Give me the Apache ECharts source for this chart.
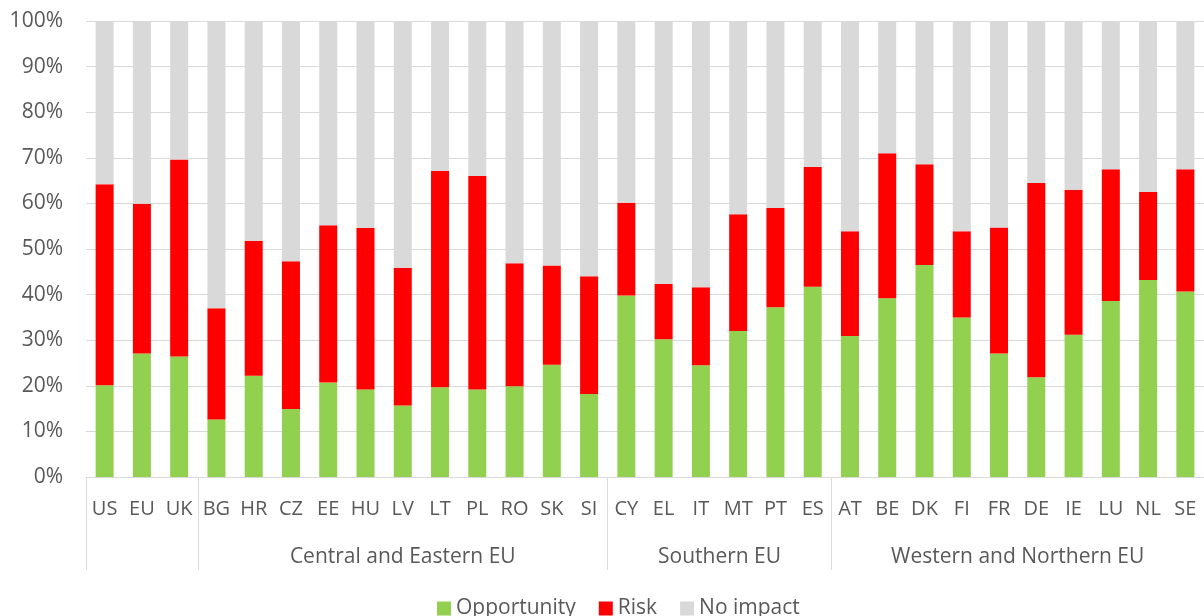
<!DOCTYPE html>
<html>
<head>
<meta charset="utf-8">
<script src="https://cdn.jsdelivr.net/npm/echarts@6/dist/echarts.min.js"></script>
<style>
html,body{margin:0;padding:0;background:#fff;}
#chart{width:1204px;height:616px;}
</style>
</head>
<body>
<div id="chart"></div>
<script>
const countries = ['US','EU','UK','BG','HR','CZ','EE','HU','LV','LT','PL','RO','SK','SI','CY','EL','IT','MT','PT','ES','AT','BE','DK','FI','FR','DE','IE','LU','NL','SE'];
const opportunity = [20.1,27.1,26.4,12.6,22.2,14.9,20.7,19.2,15.7,19.7,19.2,19.9,24.6,18.2,39.8,30.2,24.5,32.0,37.2,41.7,30.9,39.2,46.5,35.0,27.1,21.9,31.2,38.6,43.2,40.7];
const riskTop = [64.2,59.9,69.6,37.0,51.8,47.3,55.2,54.6,45.9,67.1,66.0,46.9,46.4,44.0,60.1,42.3,41.6,57.6,59.0,68.0,53.9,71.0,68.6,53.9,54.7,64.5,63.0,67.5,62.5,67.5];
const risk = riskTop.map((t,i)=>+(t-opportunity[i]).toFixed(1));
const noImpact = riskTop.map(t=>+(100-t).toFixed(1));
const groupNames = ['', 'Central and Eastern EU', 'Southern EU', 'Western and Northern EU'];
const groupSizes = [3, 11, 6, 10];
const yTicks = [0,10,20,30,40,50,60,70,80,90,100];

const bounds = [0];
groupSizes.forEach(s=>bounds.push(bounds[bounds.length-1]+s));
const centers = groupSizes.map((s,i)=>bounds[i]+s/2);

const FONT = 'Open Sans';
const TXT = '#595959';
const chart = echarts.init(document.getElementById('chart'));
chart.setOption({
  animation:false,
  textStyle:{fontFamily:FONT},
  grid:{left:86, right:-4, top:21, bottom:139, containLabel:false},
  legend:{
    left:437, top:598, padding:0,
    itemWidth:14, itemHeight:14, itemGap:23,
    icon:'rect',
    textStyle:{fontFamily:FONT, fontSize:21, color:TXT},
    data:['Opportunity','Risk','No impact']
  },
  xAxis:[{
    type:'category', data:countries,
    axisLine:{lineStyle:{color:'#d9d9d9', width:1}},
    axisTick:{show:false},
    axisLabel:{interval:0, color:TXT, fontSize:20, fontFamily:FONT, margin:22}
  },{
    type:'value', min:0, max:countries.length, position:'bottom',
    axisLine:{show:false}, splitLine:{show:false},
    axisTick:{show:true, customValues:bounds, length:93, lineStyle:{color:'#d9d9d9', width:1}},
    axisLabel:{customValues:centers, margin:70, color:TXT, fontSize:21, fontFamily:FONT,
      formatter:function(v){ const i=centers.indexOf(v); return i>=0?groupNames[i]:''; }}
  }],
  yAxis:{
    type:'value', min:0, max:100, interval:10,
    axisLine:{show:false}, axisTick:{show:false},
    splitLine:{lineStyle:{color:'#d9d9d9', width:1}},
    axisLabel:{color:TXT, fontSize:21, fontFamily:FONT, margin:23, formatter:v=>v+'%',
      customValues:yTicks}
  },
  series:[
    {name:'Opportunity', type:'bar', stack:'a', data:opportunity, barWidth:18, itemStyle:{color:'#92d050'}},
    {name:'Risk', type:'bar', stack:'a', data:risk, barWidth:18, itemStyle:{color:'#ff0000'}},
    {name:'No impact', type:'bar', stack:'a', data:noImpact, barWidth:18, itemStyle:{color:'#d9d9d9'}}
  ]
});
</script>
</body>
</html>
